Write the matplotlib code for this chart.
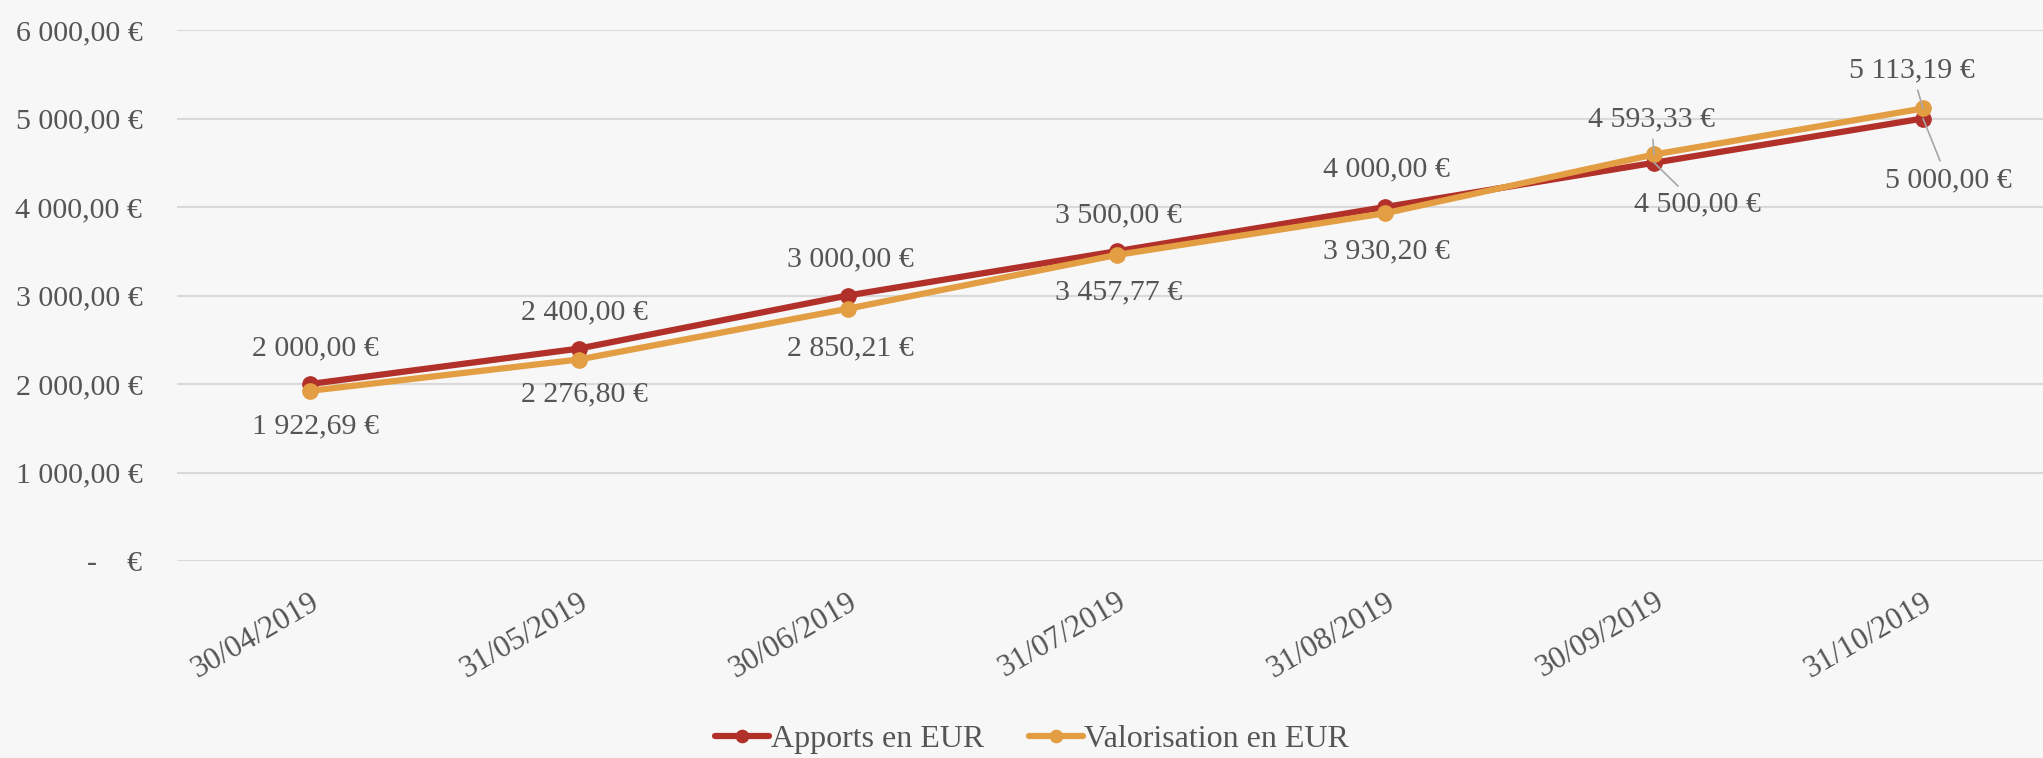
import matplotlib
matplotlib.use("Agg")
import matplotlib.pyplot as plt
import numpy as np

# data
dates = ["30/04/2019", "31/05/2019", "30/06/2019", "31/07/2019",
         "31/08/2019", "30/09/2019", "31/10/2019"]
apports = [2000.00, 2400.00, 3000.00, 3500.00, 4000.00, 4500.00, 5000.00]
valorisation = [1922.69, 2276.80, 2850.21, 3457.77, 3930.20, 4593.33, 5113.19]
yticks = [0, 1000, 2000, 3000, 4000, 5000, 6000]

# label offsets in pixels (dx, dy), leader line flag
off_apports = [(5, 36), (6, 36), (3, 36), (2, 36), (1, 38), (43, -42), (25, -62)]
off_valo = [(5, -36), (6, -35), (3, -40), (2, -37), (1, -38), (-3, 35), (-11, 38)]
lead_apports = [False] * 5 + [True, True]
lead_valo = [False] * 5 + [True, True]

red = "#B2302A"
orange = "#E39D42"
txt = "#555555"
bg = "#F7F7F7"


def eur(v):
    if v == 0:
        return "-    €"
    s = f"{v:,.2f}".replace(",", " ").replace(".", ",")
    return s + " €"


plt.rcParams["font.family"] = ["Liberation Serif", "DejaVu Serif"]

fig = plt.figure(figsize=(20.43, 7.58), dpi=100, facecolor=bg)
W, H = 2043, 758
ax = fig.add_axes([177 / W, (H - 561) / H, (W - 177) / W, (561 - 30) / H])
ax.set_facecolor(bg)

x = np.arange(len(dates))
ax.plot(x, apports, color=red, lw=4.5, marker="o", ms=11, label="Apports en EUR",
        zorder=3, solid_capstyle="round")
ax.plot(x, valorisation, color=orange, lw=4.5, marker="o", ms=11,
        label="Valorisation en EUR", zorder=4, solid_capstyle="round")

px = (1923 - 310) / 6.0
ax.set_xlim(-(310 - 177) / px, 6 + (W - 1923) / px)
ax.set_ylim(0, 6000)

ax.set_yticks(yticks)
ax.set_yticklabels([eur(v) for v in yticks])
ax.yaxis.grid(True, color="#D9D9D9", lw=1.5)
ax.set_axisbelow(True)
ax.tick_params(axis="y", length=0, pad=25, labelsize=21.5, labelcolor=txt)

ax.set_xticks(x)
ax.set_xticklabels(dates, rotation=30, ha="right", va="top",
                   rotation_mode="anchor")
ax.tick_params(axis="x", length=0, pad=19, labelsize=22.5, labelcolor=txt)

for s in ax.spines.values():
    s.set_visible(False)


def labels(vals, offs, leads):
    for i, v in enumerate(vals):
        dx, dy = offs[i]
        kw = {}
        if leads[i]:
            kw["arrowprops"] = dict(arrowstyle="-", color="#A6A6A6", lw=1.2,
                                    shrinkA=3, shrinkB=0)
        ax.annotate(eur(v), xy=(i, v), xytext=(dx, dy),
                    textcoords="offset pixels", ha="center", va="center",
                    fontsize=21.5, color=txt, zorder=5, **kw)


labels(apports, off_apports, lead_apports)
labels(valorisation, off_valo, lead_valo)

leg = fig.legend(loc="center", bbox_to_anchor=(1032 / W, (H - 739) / H),
                 ncol=2, frameon=False, fontsize=23, labelcolor=txt,
                 handlelength=1.7, handletextpad=0.05, columnspacing=1.4,
                 markerscale=0.8)

fig.savefig("out.png", dpi=100, facecolor=bg)
